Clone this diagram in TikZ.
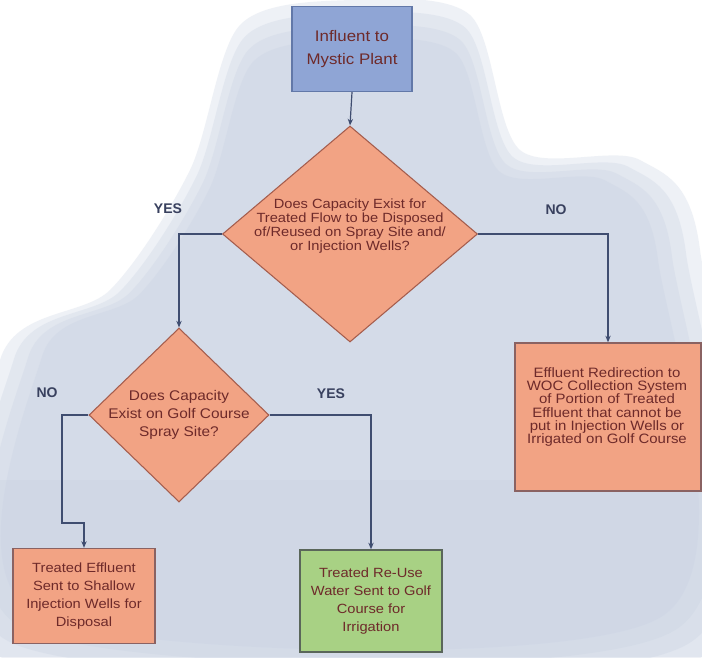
\documentclass[tikz,border=0pt]{standalone}
\usepackage{fontspec}
\setmainfont{Liberation Sans}
\newfontfamily\bx[FakeStretch=1.1]{Liberation Sans}
\usetikzlibrary{shapes.geometric,arrows.meta}
\definecolor{bgblob}{HTML}{C9D2E2}
\definecolor{topf}{HTML}{8FA5D5}
\definecolor{topd}{HTML}{6278A8}
\definecolor{orf}{HTML}{F2A384}
\definecolor{ord}{HTML}{A55D4D}
\definecolor{boxd}{HTML}{8A6262}
\definecolor{grf}{HTML}{A8D184}
\definecolor{grd}{HTML}{5A665A}
\definecolor{txtc}{HTML}{6E2A2A}
\definecolor{linec}{HTML}{3F4D70}
\definecolor{labc}{HTML}{38405E}
\begin{document}
\begin{tikzpicture}[x=0.75pt,y=-0.75pt,
  box/.style={draw=boxd, line width=1pt, inner sep=0pt, align=center, text=txtc,
    font=\bx\fontsize{10}{13.5}\selectfont},
  dia/.style={diamond, draw=ord, fill=orf, inner sep=0pt, line width=0.8pt},
  dtxt/.style={align=center, text=txtc, inner sep=0pt},
  conn/.style={draw=linec, line width=0.9pt, -{Stealth[length=5pt,width=4pt]}},
  lab/.style={font=\bfseries\fontsize{10.5}{12}\selectfont, text=labc},
  blob/.style={fill=bgblob, opacity=0.3}]
\useasboundingbox (0,0) rectangle (702,657);
% mottled background, soft-edged by stacking translucent layers
\fill[white] (0,0) rectangle (702,657);
\foreach \s in {1.0,0.96,0.92,0.88}{
  \fill[blob] plot[smooth cycle] coordinates {({350+(240-350)*\s},{330+(25-330)*\s}) ({350+(350-350)*\s},{330+(0-330)*\s}) ({350+(470-350)*\s},{330+(15-330)*\s}) ({350+(520-350)*\s},{330+(150-330)*\s}) ({350+(640-350)*\s},{330+(160-330)*\s}) ({350+(700-350)*\s},{330+(250-330)*\s}) ({350+(702-350)*\s},{330+(657-330)*\s}) ({350+(0-350)*\s},{330+(657-330)*\s}) ({350+(0-350)*\s},{330+(360-330)*\s}) ({350+(110-350)*\s},{330+(290-330)*\s}) ({350+(190-350)*\s},{330+(170-330)*\s})};
}
\fill[bgblob, opacity=0.35] (0,480) rectangle (702,657);
% nodes
\node[box, draw=topd, fill=topf, minimum width=90pt, minimum height=63.75pt,
  font=\bx\fontsize{11.5}{17}\selectfont] (b0) at (352,49) {Influent to\\Mystic Plant};
\node[dia, minimum width=191.25pt, minimum height=162pt] (d1) at (350,234) {};
\node[dtxt, font=\bx\fontsize{10}{10.5}\selectfont] (d1t) at (350,226)
  {Does Capacity Exist for\\Treated Flow to be Disposed\\of/Reused on Spray Site and/\\or Injection Wells?};
\node[dia, minimum width=135pt, minimum height=130.5pt] (d2) at (179,415) {};
\node[dtxt, font=\bx\fontsize{10.5}{13.5}\selectfont] (d2t) at (179,415)
  {Does Capacity\\Exist on Golf Course\\Spray Site?};
\node[box, fill=orf, minimum width=139.5pt, minimum height=111pt,
  font=\bx\fontsize{10.2}{10}\selectfont] (r) at (608,417) {};
\node[dtxt, font=\bx\fontsize{10.2}{10}\selectfont] (rt) at (607,407)
  {Effluent Redirection to\\WOC Collection System\\of Portion of Treated\\Effluent that cannot be\\put in Injection Wells or\\Irrigated on Golf Course};
\node[box, fill=orf, minimum width=106.5pt, minimum height=71.25pt] (bl) at (84,596)
  {Treated Effluent\\Sent to Shallow\\Injection Wells for\\Disposal};
\node[box, draw=grd, fill=grf, minimum width=106.5pt, minimum height=76.5pt] (g) at (371,601)
  {Treated Re-Use\\Water Sent to Golf\\Course for\\Irrigation};
\coordinate (k1) at (62,523);
% connectors
\draw[conn] (b0.south) -- (d1.north);
\draw[conn] (d1.west) -| (d2.north);
\draw[conn] (d1.east) -| (r.north);
\draw[conn] (d2.west) -| (k1) -| (bl.north);
\draw[conn] (d2.east) -| (g.north);
% labels
\node[lab] (yes1) at (168,209) {YES};
\node[lab] (no1) at (556,210) {NO};
\node[lab] (no2) at (47,393) {NO};
\node[lab] (yes2) at (331,394) {YES};
\end{tikzpicture}
\end{document}
